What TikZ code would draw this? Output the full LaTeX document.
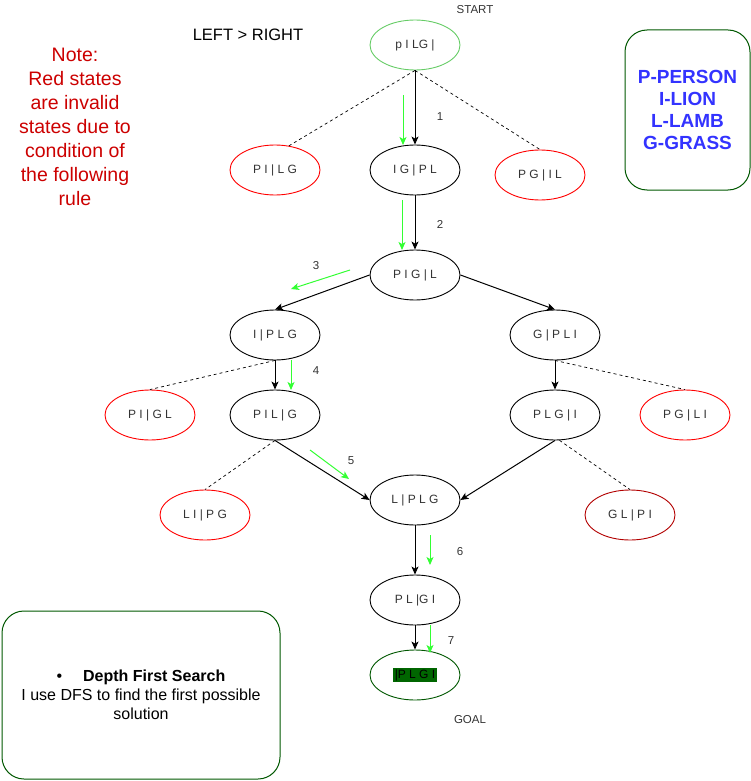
\documentclass[tikz,border=0pt]{standalone}
\usepackage{fontspec}
\setmainfont{Liberation Sans}
\usetikzlibrary{shapes.geometric,arrows.meta}
\definecolor{txtgray}{HTML}{333333}
\definecolor{lgreen}{HTML}{33FF33}
\definecolor{startgreen}{HTML}{66CC66}
\definecolor{dgreen}{HTML}{005700}
\definecolor{badred}{HTML}{FF0000}
\definecolor{darkred}{HTML}{B20000}
\definecolor{notered}{HTML}{CC0000}
\definecolor{legblue}{HTML}{3333FF}
\definecolor{goalfill}{HTML}{006600}
\begin{document}
\begin{tikzpicture}[x=1pt,y=-1pt,
  state/.style={ellipse, draw=black, line width=0.9pt, minimum width=90pt, minimum height=50pt, inner sep=0pt, font=\fontsize{12}{14}\selectfont, text=txtgray},
  bad/.style={state, draw=badred},
  edge/.style={draw=black, line width=1pt, -{Stealth[length=8pt,width=7pt,inset=2pt]}},
  gedge/.style={draw=lgreen, line width=1pt, -{Stealth[length=8pt,width=7pt,inset=2pt]}},
  dashline/.style={draw=black, line width=0.7pt, dash pattern=on 3pt off 3pt},
  lbl/.style={font=\fontsize{11.5}{13}\selectfont, text=txtgray},
  box/.style={draw=dgreen, line width=1pt, rounded corners=22pt, align=center}
]
\useasboundingbox (0,0) rectangle (751,781);

% states
\node[state, draw=startgreen] (s0) at (415,45) {p I LG |};
\node[state] (igpl) at (415,170) {I G | P L};
\node[bad] (pilg) at (275,170) {P I | L G};
\node[bad] (pgil) at (540,175) {P G | I L};
\node[state] (pigl) at (415,275) {P I G | L};
\node[state] (iplg) at (275,335) {I | P L G};
\node[state] (gpli) at (555,335) {G | P L I};
\node[bad] (pigl2) at (150,415) {P I | G L};
\node[state] (pilg2) at (275,415) {P I L | G};
\node[state] (plgi) at (555,415) {P L G | I};
\node[bad] (pgli) at (685,415) {P G | L I};
\node[bad] (lipg) at (205,515) {L I | P G};
\node[state] (lplg) at (415,500) {L | P L G};
\node[bad, draw=darkred] (glpi) at (630,515) {G L | P I};
\node[state] (plgi2) at (415,600) {P L |G I};
\node[state, draw=dgreen] (goal) at (415,675) {\setlength{\fboxsep}{1.5pt}\colorbox{goalfill}{\textcolor{black}{|P L G I}}};

% texts
\node[lbl] (start) at (475,10) {START};
\node[lbl] (goaltxt) at (470,720) {GOAL};
\node[font=\fontsize{16.5}{18}\selectfont] (lr) at (248,35) {LEFT > RIGHT};
\node[align=center, text=notered, font=\fontsize{19.5}{24}\selectfont] (note) at (75,127)
  {Note:\\Red states\\are invalid\\states due to\\condition of\\the following\\rule};
\node[box, minimum width=125pt, minimum height=160pt, text=legblue, font=\bfseries\fontsize{19}{22}\selectfont] (legend) at (687.5,110)
  {P-PERSON\\I-LION\\L-LAMB\\G-GRASS};
\node[box, minimum width=278pt, minimum height=168pt, font=\fontsize{16}{19}\selectfont] (dfs) at (141,695)
  {\textbullet\hspace{1.3em}\textbf{Depth First Search}\\I use DFS to find the first possible\\solution};

% solution edges
\draw[edge] (s0) -- (igpl);
\draw[edge] (igpl) -- (pigl);
\draw[edge] (pigl.west) -- (iplg.north);
\draw[edge] (pigl.east) -- (gpli.north);
\draw[edge] (iplg) -- (pilg2);
\draw[edge] (gpli) -- (plgi);
\draw[edge] (pilg2.south) -- (lplg.west);
\draw[edge] (plgi.south) -- (lplg.east);
\draw[edge] (lplg) -- (plgi2);
\draw[edge] (plgi2) -- (goal);

% invalid branches
\draw[dashline] (s0.south) -- (pilg.60);
\draw[dashline] (s0.south) -- (pgil.north);
\draw[dashline] (iplg.south) -- (pigl2.north);
\draw[dashline] (gpli.south) -- (pgli.north);
\draw[dashline] (pilg2.south) -- (lipg.north);
\draw[dashline] (plgi.-80) -- (glpi.north);

% green DFS steps
\coordinate (g1a) at (403,95);  \coordinate (g1b) at (403,145);
\coordinate (g2a) at (402,200); \coordinate (g2b) at (402,250);
\coordinate (g3a) at (350,270); \coordinate (g3b) at (291,289);
\coordinate (g4a) at (291,360); \coordinate (g4b) at (291,390);
\coordinate (g5a) at (310,450); \coordinate (g5b) at (349,479);
\coordinate (g6a) at (430,535); \coordinate (g6b) at (430,565);
\coordinate (g7a) at (430,625); \coordinate (g7b) at (430,653);
\draw[gedge] (g1a) -- (g1b);
\draw[gedge] (g2a) -- (g2b);
\draw[gedge] (g3a) -- (g3b);
\draw[gedge] (g4a) -- (g4b);
\draw[gedge] (g5a) -- (g5b);
\draw[gedge] (g6a) -- (g6b);
\draw[gedge] (g7a) -- (g7b);

\node[lbl] (n1) at (440,117) {1};
\node[lbl] (n2) at (440,224) {2};
\node[lbl] (n3) at (316,266) {3};
\node[lbl] (n4) at (316,371) {4};
\node[lbl] (n5) at (351,461) {5};
\node[lbl] (n6) at (460,552) {6};
\node[lbl] (n7) at (451,641) {7};
\end{tikzpicture}
\end{document}
